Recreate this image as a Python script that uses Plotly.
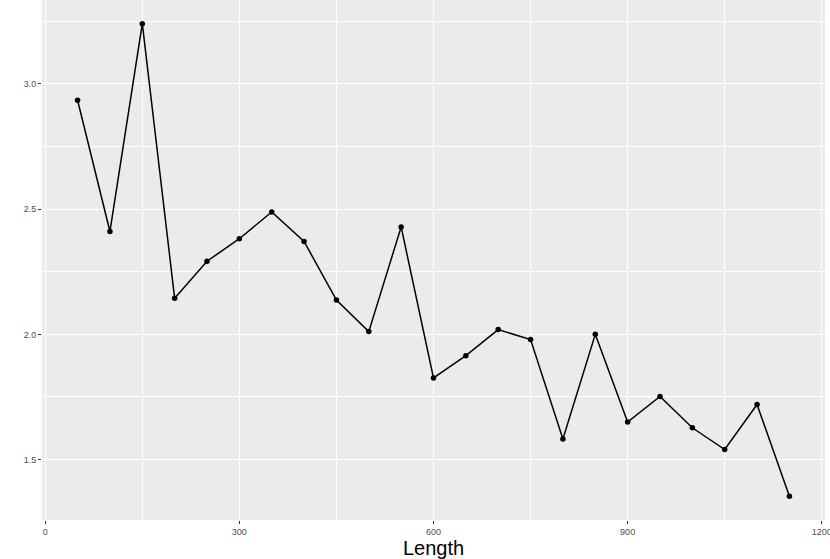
import plotly.graph_objects as go

length = [50, 100, 150, 200, 250, 300, 350, 400, 450, 500, 550, 600,
          650, 700, 750, 800, 850, 900, 950, 1000, 1050, 1100, 1150]
value = [2.935, 2.411, 3.241, 2.144, 2.292, 2.382, 2.489, 2.371, 2.137, 2.011,
         2.429, 1.826, 1.915, 2.019, 1.979, 1.582, 2.000, 1.650, 1.752, 1.627,
         1.540, 1.720, 1.353]
x_ticks = [0, 300, 600, 900, 1200]
y_ticks = [1.5, 2.0, 2.5, 3.0]
y_tick_labels = ["1.5", "2.0", "2.5", "3.0"]

fig = go.Figure()
fig.add_trace(go.Scatter(
    x=length, y=value, mode="lines+markers",
    line=dict(color="black", width=1.5),
    marker=dict(color="black", size=5.5),
    showlegend=False,
))

ymin, ymax = min(value), max(value)
pad = (ymax - ymin) * 0.05

fig.update_layout(
    width=830, height=559,
    margin=dict(l=42, r=5, t=0, b=39),
    paper_bgcolor="white",
    plot_bgcolor="#EBEBEB",
    font=dict(family="Liberation Sans, Arial, sans-serif", color="#4D4D4D"),
)
fig.update_xaxes(
    range=[-5, 1205],
    tickvals=x_ticks, ticktext=[str(t) for t in x_ticks],
    ticks="outside", ticklen=3, tickcolor="#333333", tickwidth=1,
    tickfont=dict(size=9, color="#4D4D4D"),
    ticklabeloverflow="allow",
    showgrid=True, gridcolor="white", gridwidth=1.2,
    minor=dict(tickvals=[150, 450, 750, 1050], showgrid=True,
               gridcolor="white", gridwidth=0.6, ticks=""),
    zeroline=False, showline=False, automargin=False,
    title=dict(text="Length", font=dict(size=20, color="black"), standoff=1),
)
fig.update_yaxes(
    range=[ymin - pad, ymax + pad],
    tickvals=y_ticks, ticktext=y_tick_labels,
    ticks="outside", ticklen=3, tickcolor="#333333", tickwidth=1,
    tickfont=dict(size=9, color="#4D4D4D"),
    showgrid=True, gridcolor="white", gridwidth=1.2,
    minor=dict(tickvals=[1.25, 1.75, 2.25, 2.75, 3.25], showgrid=True,
               gridcolor="white", gridwidth=0.6, ticks=""),
    zeroline=False, showline=False, automargin=False,
)

fig.write_html(
    "out.html",
    config={"displayModeBar": False},
    post_script="document.body.style.margin='0';document.body.style.overflow='hidden';",
)
